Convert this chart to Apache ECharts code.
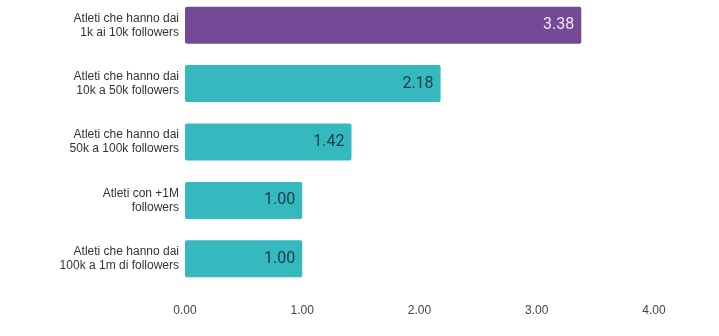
<!DOCTYPE html>
<html>
<head>
<meta charset="utf-8">
<script src="https://cdn.jsdelivr.net/npm/echarts@6/dist/echarts.min.js"></script>
<style>html,body{margin:0;padding:0;background:#fff;overflow:hidden;}#c{position:absolute;left:0;top:-4px;width:719px;height:340px;}</style>
</head>
<body>
<div id="c"></div>
<script>
var categories = [
  "Atleti che hanno dai\n1k ai 10k followers",
  "Atleti che hanno dai\n10k a 50k followers",
  "Atleti che hanno dai\n50k a 100k followers",
  "Atleti con +1M\nfollowers",
  "Atleti che hanno dai\n100k a 1m di followers"
];
var values = [3.38, 2.18, 1.42, 1.00, 1.00];
var barColors = ["#744a96", "#35b8be", "#35b8be", "#35b8be", "#35b8be"];
var labelColors = ["#f3e6f7", "#173f4a", "#173f4a", "#173f4a", "#173f4a"];

var chart = echarts.init(document.getElementById('c'));
chart.setOption({
  animation: false,
  grid: { left: 185, right: 65, top: 0, height: 292, containLabel: false },
  xAxis: {
    type: 'value', min: 0, max: 4, interval: 1,
    axisLine: { show: false }, axisTick: { show: false }, splitLine: { show: false },
    axisLabel: { formatter: function (v) { return v.toFixed(2); }, color: '#444', fontSize: 12, fontFamily: 'Liberation Sans', margin: 17 }
  },
  yAxis: {
    type: 'category', inverse: true, data: categories,
    axisLine: { show: false }, axisTick: { show: false },
    axisLabel: { color: '#333', fontSize: 12, lineHeight: 14, fontFamily: 'Liberation Sans', margin: 6, align: 'right' }
  },
  series: [{
    type: 'bar',
    barWidth: 37,
    data: values.map(function (v, i) {
      return {
        value: v,
        itemStyle: { color: barColors[i], borderRadius: 2 },
        label: { color: labelColors[i] }
      };
    }),
    label: {
      show: true, position: 'insideRight', distance: 7,
      formatter: function (p) { return p.value.toFixed(2); },
      fontSize: 16, fontFamily: 'Roboto'
    }
  }]
});
</script>
</body>
</html>
